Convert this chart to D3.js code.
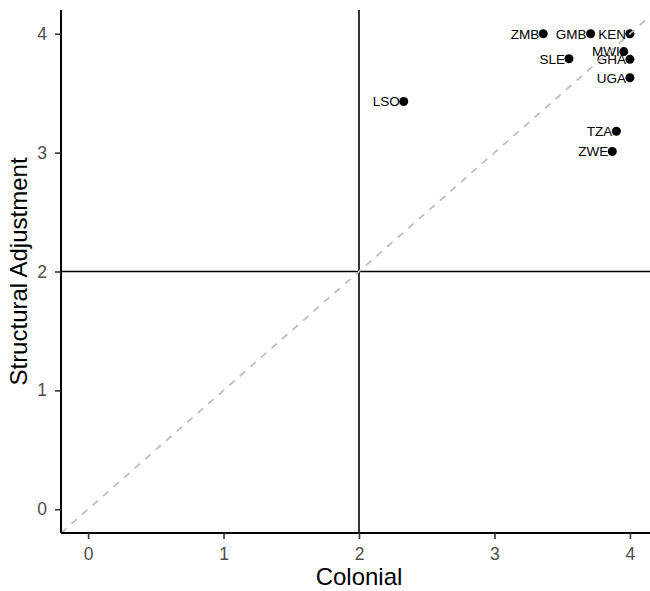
<!DOCTYPE html>
<html>
<head>
  <title>Colonial vs Structural Adjustment</title>
  <script src="https://d3js.org/d3.v7.min.js"></script>
  <style>
    body { margin: 0; background: #fff; }
    svg { font-family: "Liberation Sans", Arial, sans-serif; }
  </style>
</head>
<body>
<script>
  // data
  var countries  = ['ZMB', 'GMB', 'KEN', 'SLE', 'MWI', 'GHA', 'UGA', 'LSO', 'TZA', 'ZWE']
  var colonial   = [3.36, 3.71, 4.00, 3.55, 3.955, 4.00, 4.00, 2.33, 3.90, 3.87]
  var structural = [4.00, 4.00, 4.00, 3.79, 3.85, 3.785, 3.63, 3.43, 3.18, 3.01]
  var xTicks = [0, 1, 2, 3, 4]
  var yTicks = [0, 1, 2, 3, 4]

  var data = countries.map(function (c, i) {
    return { name: c, x: colonial[i], y: structural[i] }
  })

  var W = 650, H = 591
  var margin = { top: 10, right: -7, bottom: 58, left: 61 }
  var w = W - margin.left - margin.right
  var h = H - margin.top - margin.bottom

  var svg = d3.select('body').append('svg')
      .attr('width', W)
      .attr('height', H)
  var g = svg.append('g')
      .attr('transform', 'translate(' + margin.left + ',' + margin.top + ')')

  var xScale = d3.scaleLinear().domain([-0.2, 4.2]).range([0, w])
  var yScale = d3.scaleLinear().domain([-0.2, 4.2]).range([h, 0])

  // reference lines at 2
  g.append('line')
      .attr('x1', xScale(2)).attr('x2', xScale(2))
      .attr('y1', 0).attr('y2', h)
      .attr('stroke', '#000').attr('stroke-width', 1.6)
  g.append('line')
      .attr('x1', 0).attr('x2', w)
      .attr('y1', yScale(2)).attr('y2', yScale(2))
      .attr('stroke', '#000').attr('stroke-width', 1.6)

  // points
  g.selectAll('circle')
      .data(data)
      .enter()
    .append('circle')
      .attr('cx', function (d) { return xScale(d.x) })
      .attr('cy', function (d) { return yScale(d.y) })
      .attr('r', 4.5)
      .attr('fill', '#000')

  // labels
  g.selectAll('text.lab')
      .data(data)
      .enter()
    .append('text')
      .attr('class', 'lab')
      .attr('x', function (d) { return xScale(d.x) - 4 })
      .attr('y', function (d) { return yScale(d.y) })
      .attr('dy', '0.36em')
      .style('text-anchor', 'end')
      .style('font-size', '13.5px')
      .attr('fill', '#000')
      .text(function (d) { return d.name })

  // 45 degree line on top
  g.append('line')
      .attr('x1', xScale(-0.2)).attr('y1', yScale(-0.2))
      .attr('x2', xScale(4.2)).attr('y2', yScale(4.2))
      .attr('stroke', '#bebebe').attr('stroke-width', 1.8)
      .attr('stroke-dasharray', '7,7')

  // axes
  var xAxis = g.append('g')
      .attr('transform', 'translate(0,' + h + ')')
      .call(d3.axisBottom(xScale).tickValues(xTicks).tickFormat(d3.format('d')).tickSize(6).tickPadding(9))
  var yAxis = g.append('g')
      .call(d3.axisLeft(yScale).tickValues(yTicks).tickFormat(d3.format('d')).tickSize(6).tickPadding(8))
  ;[xAxis, yAxis].forEach(function (a) {
    a.select('.domain').attr('stroke', '#000').attr('stroke-width', 2)
    a.selectAll('.tick line').attr('stroke', '#333').attr('stroke-width', 1.6)
    a.selectAll('.tick text').attr('fill', '#4d4d4d')
      .style('font-size', '17.5px')
      .style('font-family', '"Liberation Sans", Arial, sans-serif')
  })
  xAxis.select('.domain').attr('d', 'M0,0H' + w)
  yAxis.select('.domain').attr('d', 'M0,0V' + h)

  // axis titles
  svg.append('text')
      .attr('x', margin.left + w / 2)
      .attr('y', 585)
      .style('text-anchor', 'middle')
      .style('font-size', '24px')
      .text('Colonial')
  svg.append('text')
      .attr('transform', 'translate(26.5,' + (margin.top + h / 2) + ') rotate(-90)')
      .style('text-anchor', 'middle')
      .style('font-size', '24px')
      .text('Structural Adjustment')
</script>
</body>
</html>
